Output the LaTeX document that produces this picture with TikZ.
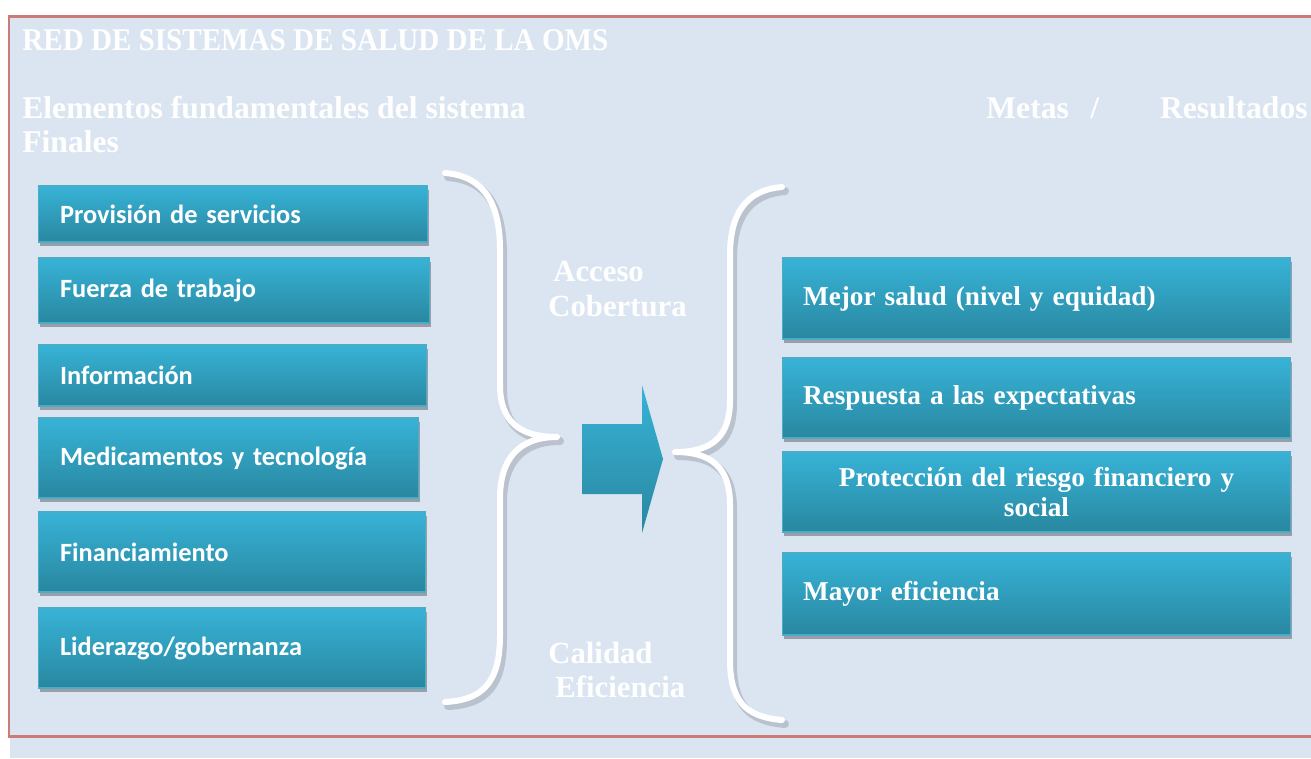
\documentclass[tikz,border=0pt]{standalone}
\usepackage{fontspec}
\setmainfont{Liberation Serif}
\newfontfamily\boxfont{Carlito}
\newfontfamily\titlefont[FakeStretch=0.92]{Liberation Serif}
\usepackage{tikz}
\usetikzlibrary{shadows, positioning}
\usepackage{xcolor}
\definecolor{fondo}{HTML}{DBE5F1}
\definecolor{marco}{HTML}{CD7B76}
\definecolor{cajaarriba}{HTML}{37B3D7}
\definecolor{cajaabajo}{HTML}{2987A0}
\definecolor{cajaborde}{HTML}{4BACC6}

\newcommand{\llaveizq}{(445,173) .. controls (485,176) and (500,205) .. (500,250) -- (500,385) .. controls (500,420) and (518,437) .. (557,437) .. controls (518,437) and (500,460) .. (500,498) -- (500,635) .. controls (500,680) and (485,700) .. (445,702)}
\newcommand{\llaveder}{(782,187) .. controls (745,190) and (730,215) .. (730,255) -- (730,400) .. controls (730,435) and (714,452) .. (675,452) .. controls (714,452) and (730,470) .. (730,505) -- (730,660) .. controls (730,700) and (745,717) .. (782,720)}

\begin{document}
\begin{tikzpicture}[
      x=0.02cm, y=-0.02cm,
      headtext/.style={text=white, font=\fontsize{18}{20}\selectfont\bfseries, inner sep=0pt},
      midtext/.style={text=white, font=\fontsize{17.5}{19}\selectfont\bfseries, inner sep=0pt, anchor=base west},
      caja/.style={top color=cajaarriba, bottom color=cajaabajo, draw=cajaborde, line width=0.6pt, text=white, inner ysep=0pt,
        drop shadow={shadow xshift=0.03cm, shadow yshift=-0.08cm, opacity=0.3, fill=black}},
      elem/.style={caja, inner xsep=0.44cm, align=left, font=\boxfont\fontsize{15}{17}\selectfont\bfseries},
      meta/.style={caja, inner xsep=0.42cm, text width=9.34cm, minimum height=1.6cm, align=left, font=\fontsize{15.5}{17}\selectfont\bfseries},
      llave/.style={draw=white, line width=0.12cm, line cap=round, line join=round},
      llavesombra/.style={draw=black, opacity=0.15, line width=0.16cm, line cap=round, line join=round}
    ]

    \useasboundingbox (0,0) rectangle (1311,758);

    % Fondo y marco
    \fill[fondo] (10,736) rectangle (1311,758);
    \fill[fondo] (9,16) rectangle (1313,736);
    \draw[marco, line width=0.06cm] (9,16) rectangle (1313,736);

    % Titulos
    \node[headtext, anchor=base west, font=\titlefont\fontsize{18}{20}\selectfont\bfseries] (titulo) at (22,50) {RED DE SISTEMAS DE SALUD DE LA OMS};
    \node[headtext, anchor=base west] (elementos) at (22,118) {Elementos fundamentales del sistema};
    \node[headtext, anchor=base west] (finales) at (22,152) {Finales};
    \node[headtext, anchor=base west] (metas) at (986,118) {Metas};
    \node[headtext, anchor=base west] (barra) at (1090,118) {/};
    \node[headtext, anchor=base east] (resultados) at (1308,118) {Resultados};

    % Elementos fundamentales
    \node[elem, text width=6.92cm, minimum height=1.12cm] (provision) at (233,214) {Provisión de servicios};
    \node[elem, text width=6.96cm, minimum height=1.30cm] (fuerza) at (234,290.5) {Fuerza de trabajo};
    \node[elem, text width=6.90cm, minimum height=1.22cm] (informacion) at (232.5,375.5) {Información};
    \node[elem, text width=6.74cm, minimum height=1.60cm] (medicamentos) at (228.5,458) {Medicamentos y tecnología};
    \node[elem, text width=6.88cm, minimum height=1.60cm] (financiamiento) at (232,552) {Financiamiento};
    \node[elem, text width=6.88cm, minimum height=1.60cm] (liderazgo) at (232,648) {Liderazgo/gobernanza};

    % Llaves
    \draw[llavesombra, shift={(3,4)}] \llaveizq;
    \draw[llave] \llaveizq;
    \draw[llavesombra, shift={(3,4)}] \llaveder;
    \draw[llave] \llaveder;

    \node[midtext] (acceso) at (553,281) {Acceso};
    \node[midtext] (cobertura) at (548,316) {Cobertura};
    \node[midtext] (calidad) at (548,663) {Calidad};
    \node[midtext] (efic) at (555,697) {Eficiencia};

    % Flecha
    \shade[top color=cajaarriba, bottom color=cajaabajo] (582,424) -- (642,424) -- (642,385) -- (663,459) -- (642,533) -- (642,494) -- (582,494) -- cycle;

    % Metas / resultados
    \node[meta, minimum height=1.62cm] (salud) at (1036.5,298.5) {Mejor salud (nivel y equidad)};
    \node[meta] (respuesta) at (1036.5,398) {Respuesta a las expectativas};
    \node[meta, align=center] (proteccion) at (1036.5,492) {Protección del riesgo financiero y\\ social};
    \node[meta, minimum height=1.64cm] (mayoref) at (1036.5,594) {Mayor eficiencia};

  \end{tikzpicture}
\end{document}
